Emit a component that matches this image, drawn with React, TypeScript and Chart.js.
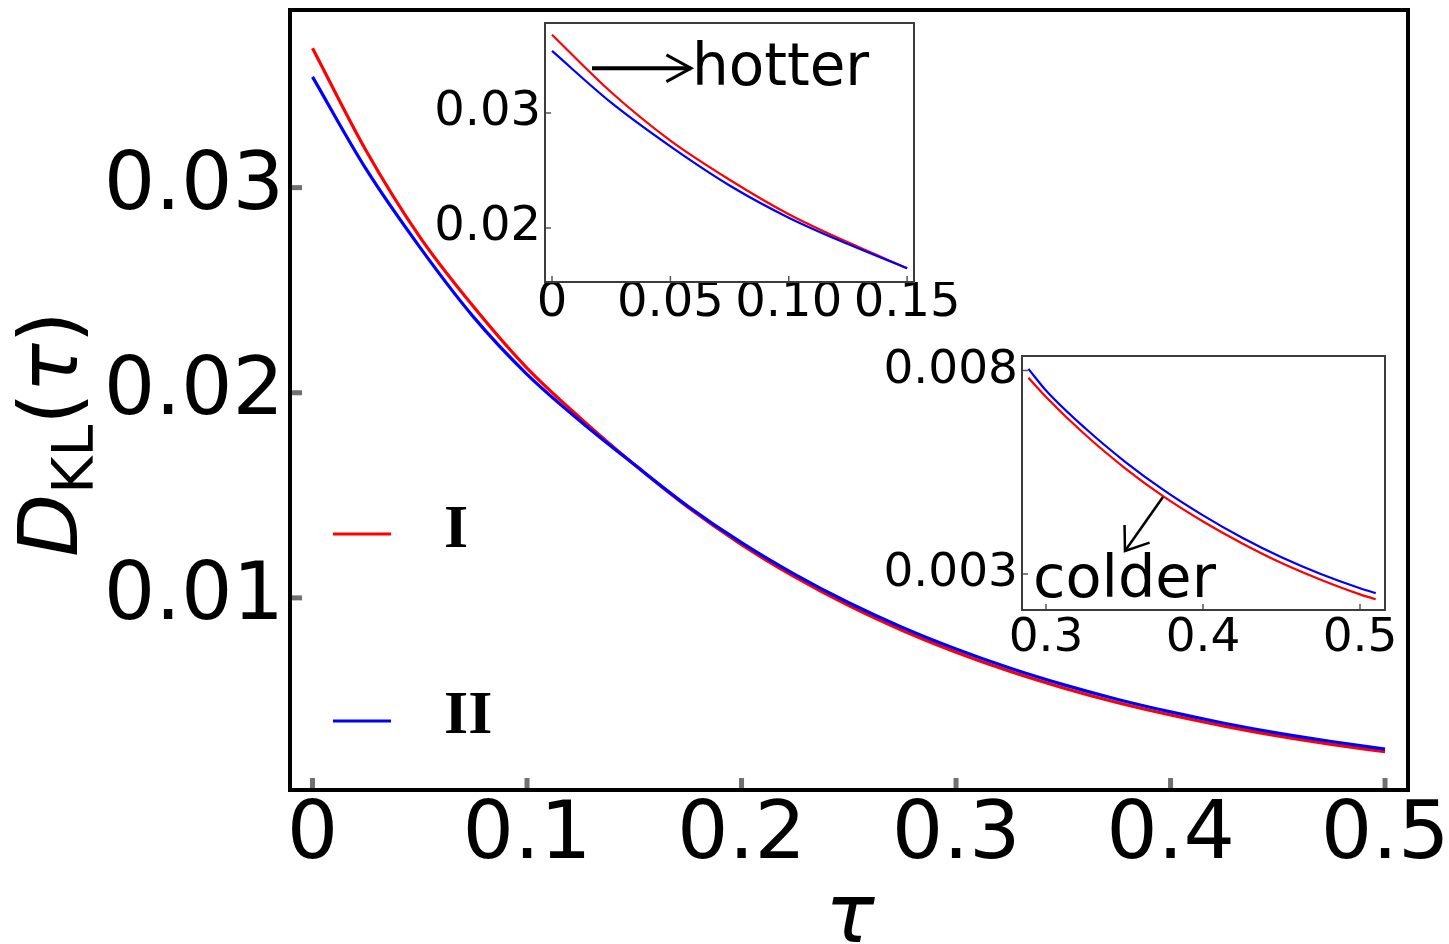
import React, { useEffect, useRef } from "react";
import { Chart, registerables } from "chart.js";

Chart.register(...registerables);

// ---------- data ----------
const tau = [0, 0.025, 0.05, 0.075, 0.1, 0.125, 0.15, 0.175, 0.2, 0.225, 0.25, 0.275, 0.3, 0.325, 0.35, 0.375, 0.4, 0.425, 0.45, 0.475, 0.5];
const seriesI = [0.0368, 0.0318, 0.0276, 0.0242, 0.0212, 0.01875, 0.0165, 0.01442, 0.0126, 0.01101, 0.00962, 0.00841, 0.00735, 0.00642, 0.00561, 0.0049, 0.00429, 0.00375, 0.00327, 0.00286, 0.0025];
const seriesII = [0.0354, 0.0309, 0.0271, 0.0237, 0.0209, 0.0186, 0.0165, 0.01447, 0.01269, 0.01113, 0.00976, 0.00856, 0.00751, 0.00658, 0.00577, 0.00506, 0.00444, 0.00389, 0.00341, 0.003, 0.00263];

const inset2Tau = [0.2888, 0.3, 0.325, 0.35, 0.375, 0.4, 0.425, 0.45, 0.475, 0.5, 0.51];
const inset2I = [0.00782, 0.00735, 0.00642, 0.00561, 0.0049, 0.00429, 0.00375, 0.00327, 0.00286, 0.0025, 0.00238];
const inset2II = [0.00804, 0.00751, 0.00658, 0.00577, 0.00506, 0.00444, 0.00389, 0.00341, 0.003, 0.00265, 0.00253];

const legendLabels = ["I", "II"];
const mainXTicks = [0, 0.1, 0.2, 0.3, 0.4, 0.5];
const mainYTicks = [0.01, 0.02, 0.03];
const inset1XTicks = [0, 0.05, 0.1, 0.15];
const inset1XLabels = ["0", "0.05", "0.10", "0.15"];
const inset1YTicks = [0.02, 0.03];
const inset2XTicks = [0.3, 0.4, 0.5];
const inset2YTicks = [0.003, 0.008];

const RED = "#ff0000";
const BLUE = "#0000ff";
const SANS = "'DejaVu Sans', sans-serif";

function pts(xs: number[], ys: number[]) {
  return xs.map((x, i) => ({ x, y: ys[i] }));
}

function framePlugin(o: any) {
  return {
    id: "frameTicks",
    beforeDraw(chart: any) {
      if (!o.fillWhite) return;
      const a = chart.chartArea;
      const ctx = chart.ctx;
      ctx.save();
      ctx.fillStyle = "#ffffff";
      ctx.fillRect(a.left, a.top, a.right - a.left, a.bottom - a.top);
      ctx.restore();
    },
    afterDraw(chart: any) {
      const { ctx, chartArea: a, scales } = chart;
      ctx.save();
      ctx.strokeStyle = o.tickColor;
      ctx.lineWidth = o.tickWidth;
      ctx.lineCap = "butt";
      for (const v of o.xTicks) {
        const px = scales.x.getPixelForValue(v);
        ctx.beginPath();
        ctx.moveTo(px, a.bottom);
        ctx.lineTo(px, a.bottom - o.tickLen);
        ctx.stroke();
      }
      for (const v of o.yTicks) {
        const py = scales.y.getPixelForValue(v);
        ctx.beginPath();
        ctx.moveTo(a.left, py);
        ctx.lineTo(a.left + o.tickLen, py);
        ctx.stroke();
      }
      ctx.strokeStyle = o.frameColor;
      ctx.lineWidth = o.frameWidth;
      ctx.strokeRect(a.left, a.top, a.right - a.left, a.bottom - a.top);
      ctx.restore();
      if (o.extra) o.extra(chart);
    },
  };
}

function drawArrow(ctx: any, x1: number, y1: number, x2: number, y2: number, headLen: number, headAng: number, shaftW: number, headW: number) {
  ctx.save();
  ctx.strokeStyle = "#000";
  ctx.lineCap = "butt";
  ctx.lineJoin = "miter";
  ctx.lineWidth = shaftW;
  ctx.beginPath();
  ctx.moveTo(x1, y1);
  ctx.lineTo(x2, y2);
  ctx.stroke();
  const back = Math.atan2(y1 - y2, x1 - x2);
  ctx.lineWidth = headW;
  ctx.beginPath();
  ctx.moveTo(x2 + headLen * Math.cos(back + headAng), y2 + headLen * Math.sin(back + headAng));
  ctx.lineTo(x2, y2);
  ctx.lineTo(x2 + headLen * Math.cos(back - headAng), y2 + headLen * Math.sin(back - headAng));
  ctx.stroke();
  ctx.restore();
}

function makeChart(canvas: HTMLCanvasElement, c: any) {
  return new Chart(canvas, {
    type: "line",
    data: {
      datasets: [
        { label: legendLabels[0], data: c.red, borderColor: RED, borderWidth: c.lineWidth, pointRadius: 0, fill: false, cubicInterpolationMode: "monotone", order: 1 },
        { label: legendLabels[1], data: c.blue, borderColor: BLUE, borderWidth: c.lineWidth, pointRadius: 0, fill: false, cubicInterpolationMode: "monotone", order: 0 },
      ],
    },
    options: {
      responsive: false,
      animation: false,
      devicePixelRatio: 1,
      events: [],
      layout: { padding: c.padding },
      plugins: { legend: { display: false }, tooltip: { enabled: false } },
      scales: {
        x: {
          type: "linear",
          min: c.xMin,
          max: c.xMax,
          afterBuildTicks: (s: any) => {
            s.ticks = c.xTicks.map((v: number) => ({ value: v }));
          },
          afterFit: (s: any) => {
            s.height = c.xHeight;
            s.paddingLeft = 0;
            s.paddingRight = 0;
            s.paddingTop = 0;
            s.paddingBottom = 0;
          },
          grid: { display: false, drawTicks: false },
          border: { display: false },
          ticks: {
            autoSkip: false,
            maxRotation: 0,
            minRotation: 0,
            color: "#000",
            padding: c.xPad,
            font: { family: SANS, size: c.fontSize, lineHeight: 1 },
            callback: c.xFmt,
          },
        },
        y: {
          type: "linear",
          min: c.yMin,
          max: c.yMax,
          afterBuildTicks: (s: any) => {
            s.ticks = c.yTicks.map((v: number) => ({ value: v }));
          },
          afterFit: (s: any) => {
            s.width = c.yWidth;
            s.paddingLeft = 0;
            s.paddingRight = 0;
            s.paddingTop = 0;
            s.paddingBottom = 0;
          },
          grid: { display: false, drawTicks: false },
          border: { display: false },
          ticks: {
            autoSkip: false,
            color: "#000",
            padding: c.yPad,
            font: { family: SANS, size: c.fontSize, lineHeight: 1 },
            callback: c.yFmt,
          },
        },
      },
    },
    plugins: [c.plugin],
  } as any);
}

export default function App() {
  const mainRef = useRef<HTMLCanvasElement>(null);
  const in1Ref = useRef<HTMLCanvasElement>(null);
  const in2Ref = useRef<HTMLCanvasElement>(null);

  useEffect(() => {
    const charts: Chart[] = [];

    // ---------- main chart ----------
    const mainExtra = (chart: any) => {
      const ctx = chart.ctx;
      const ds = chart.data.datasets;
      ctx.save();
      // legend
      const rows = [534, 721];
      const bases = [547, 733];
      ds.forEach((d: any, i: number) => {
        ctx.strokeStyle = d.borderColor;
        ctx.lineWidth = 3;
        ctx.beginPath();
        ctx.moveTo(333, rows[i]);
        ctx.lineTo(391, rows[i]);
        ctx.stroke();
        ctx.fillStyle = "#000";
        ctx.font = "bold 62px 'Liberation Serif', serif";
        ctx.textAlign = "left";
        ctx.textBaseline = "alphabetic";
        ctx.fillText(d.label, 444, bases[i]);
      });
      // x label
      ctx.font = "italic 82px " + SANS;
      ctx.textAlign = "center";
      ctx.fillText("τ", 850, 942);
      // y label D_KL(τ)
      ctx.translate(77, 557);
      ctx.rotate(-Math.PI / 2);
      ctx.textAlign = "left";
      let x = 0;
      ctx.font = "italic 82px " + SANS;
      ctx.fillText("D", x, 0);
      x += ctx.measureText("D").width;
      ctx.font = "57px " + SANS;
      ctx.fillText("KL", x, 16);
      x += ctx.measureText("KL").width;
      ctx.font = "82px " + SANS;
      ctx.fillText("(", x, 0);
      x += ctx.measureText("(").width;
      ctx.font = "italic 82px " + SANS;
      ctx.fillText("τ", x, 0);
      x += ctx.measureText("τ").width;
      ctx.font = "82px " + SANS;
      ctx.fillText(")", x, 0);
      ctx.restore();
    };

    if (mainRef.current) {
      charts.push(
        makeChart(mainRef.current, {
          red: pts(tau, seriesI),
          blue: pts(tau, seriesII),
          lineWidth: 3.2,
          padding: { left: 0, top: 10, right: 41, bottom: 0 },
          xMin: -0.0105,
          xMax: 0.5107,
          yMin: 0.000634,
          yMax: 0.03866,
          xTicks: mainXTicks,
          yTicks: mainYTicks,
          xHeight: 154,
          yWidth: 290,
          xPad: 6,
          yPad: 6,
          fontSize: 81,
          xFmt: (v: number) => (v === 0 ? "0" : v.toFixed(1)),
          yFmt: (v: number) => v.toFixed(2),
          plugin: framePlugin({
            xTicks: mainXTicks,
            yTicks: mainYTicks,
            tickLen: 12,
            tickWidth: 5,
            tickColor: "#707070",
            frameColor: "#000",
            frameWidth: 4,
            extra: mainExtra,
          }),
        })
      );
    }

    // ---------- inset 1 ----------
    const in1Tau = tau.filter((t) => t <= 0.1500001);
    const in1Extra = (chart: any) => {
      const sx = chart.scales.x;
      const sy = chart.scales.y;
      const ctx = chart.ctx;
      const y0 = sy.getPixelForValue(0.03389);
      drawArrow(ctx, sx.getPixelForValue(0.0169), y0, sx.getPixelForValue(0.0587), y0, 28, 0.5, 4, 3);
      ctx.save();
      ctx.fillStyle = "#000";
      ctx.font = "58px " + SANS;
      ctx.textAlign = "left";
      ctx.textBaseline = "alphabetic";
      ctx.fillText("hotter", sx.getPixelForValue(0.0591), sy.getPixelForValue(0.03243));
      ctx.restore();
    };
    if (in1Ref.current) {
      charts.push(
        makeChart(in1Ref.current, {
          red: pts(in1Tau, seriesI.slice(0, in1Tau.length)),
          blue: pts(in1Tau, seriesII.slice(0, in1Tau.length)),
          lineWidth: 2.2,
          padding: { left: 0, top: 23, right: 86, bottom: 0 },
          xMin: -0.00296,
          xMax: 0.1529,
          yMin: 0.015304,
          yMax: 0.037826,
          xTicks: inset1XTicks,
          yTicks: inset1YTicks,
          xHeight: 58,
          yWidth: 125,
          xPad: -2,
          yPad: 4,
          fontSize: 48,
          xFmt: (v: number, i: number) => inset1XLabels[i],
          yFmt: (v: number) => v.toFixed(2),
          plugin: framePlugin({
            xTicks: inset1XTicks,
            yTicks: inset1YTicks,
            tickLen: 6,
            tickWidth: 1.5,
            tickColor: "#555",
            frameColor: "#3c3c3c",
            frameWidth: 2,
            fillWhite: true,
            extra: in1Extra,
          }),
        })
      );
    }

    // ---------- inset 2 ----------
    const in2Extra = (chart: any) => {
      const sx = chart.scales.x;
      const sy = chart.scales.y;
      const ctx = chart.ctx;
      drawArrow(
        ctx,
        sx.getPixelForValue(0.3745),
        sy.getPixelForValue(0.00489),
        sx.getPixelForValue(0.3503),
        sy.getPixelForValue(0.003565),
        26,
        0.63,
        2.5,
        2.5
      );
      ctx.save();
      ctx.fillStyle = "#000";
      ctx.font = "59px " + SANS;
      ctx.textAlign = "left";
      ctx.textBaseline = "alphabetic";
      ctx.fillText("colder", sx.getPixelForValue(0.2917), sy.getPixelForValue(0.002435));
      ctx.restore();
    };
    if (in2Ref.current) {
      charts.push(
        makeChart(in2Ref.current, {
          red: pts(inset2Tau, inset2I),
          blue: pts(inset2Tau, inset2II),
          lineWidth: 2.2,
          padding: { left: 0, top: 26, right: 64, bottom: 0 },
          xMin: 0.28471,
          xMax: 0.51592,
          yMin: 0.002116,
          yMax: 0.008356,
          xTicks: inset2XTicks,
          yTicks: inset2YTicks,
          xHeight: 60,
          yWidth: 162,
          xPad: 5,
          yPad: 4,
          fontSize: 47,
          xFmt: (v: number) => v.toFixed(1),
          yFmt: (v: number) => v.toFixed(3),
          plugin: framePlugin({
            xTicks: inset2XTicks,
            yTicks: inset2YTicks,
            tickLen: 6,
            tickWidth: 1.5,
            tickColor: "#555",
            frameColor: "#3c3c3c",
            frameWidth: 2,
            fillWhite: true,
            extra: in2Extra,
          }),
        })
      );
    }

    return () => {
      charts.forEach((c) => c.destroy());
    };
  }, []);

  const abs = (left: number, top: number): React.CSSProperties => ({ position: "absolute", left, top, display: "block" });

  return (
    <div>
      <canvas ref={mainRef} width={1449} height={944} style={{ ...abs(0, 0), width: 1449, height: 944 }} />
      <canvas ref={in1Ref} width={580} height={340} style={{ ...abs(420, 0), width: 580, height: 340 }} />
      <canvas ref={in2Ref} width={589} height={340} style={{ ...abs(860, 330), width: 589, height: 340 }} />
    </div>
  );
}
